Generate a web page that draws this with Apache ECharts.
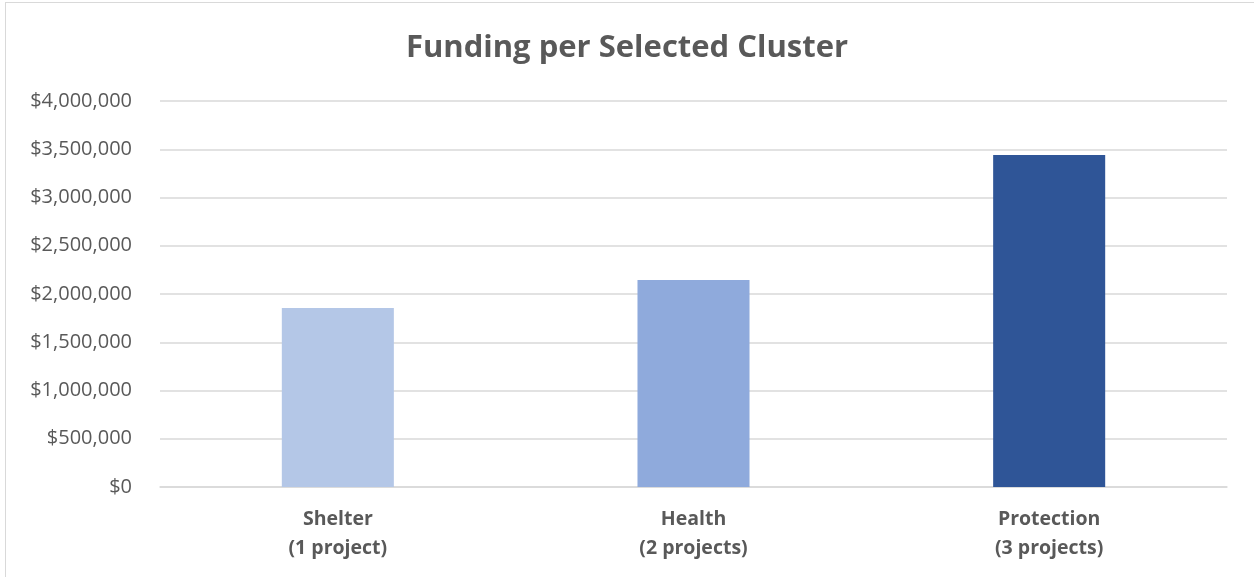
<!DOCTYPE html>
<html>
<head>
<meta charset="utf-8">
<script src="https://cdn.jsdelivr.net/npm/echarts@6/dist/echarts.min.js"></script>
<style>
html,body{margin:0;padding:0;background:#fff;}
#frame{position:absolute;left:5px;top:2px;right:0;bottom:0;border-left:1px solid #d9d9d9;border-top:1px solid #d9d9d9;}
#chart{position:absolute;left:0;top:0;width:1254px;height:577px;}
</style>
</head>
<body>
<div id="frame"></div>
<div id="chart"></div>
<script>
const categories = ['Shelter\n(1 project)', 'Health\n(2 projects)', 'Protection\n(3 projects)'];
const funding = [1855000, 2145000, 3440000];
const barColors = ['#b4c7e7', '#8faadc', '#2f5597'];
const yTicks = [0, 500000, 1000000, 1500000, 2000000, 2500000, 3000000, 3500000, 4000000];

const chart = echarts.init(document.getElementById('chart'), null, {renderer: 'canvas'});
const fontFam = '"Open Sans", "Liberation Sans", sans-serif';
chart.setOption({
  animation: false,
  title: {
    text: 'Funding per Selected Cluster',
    left: 'center',
    top: 28,
    textStyle: {fontFamily: fontFam, fontWeight: 'bold', fontSize: 31, color: '#595959'}
  },
  grid: {left: 160, right: 27, top: 101, bottom: 90, containLabel: false},
  xAxis: {
    type: 'category',
    data: categories,
    axisLine: {lineStyle: {color: '#d9d9d9', width: 1.5}},
    axisTick: {show: false},
    axisLabel: {fontFamily: fontFam, fontWeight: 'bold', fontSize: 19.5, color: '#595959', margin: 18, lineHeight: 29}
  },
  yAxis: {
    type: 'value',
    min: yTicks[0],
    max: yTicks[yTicks.length - 1],
    interval: yTicks[1] - yTicks[0],
    axisLine: {show: false},
    axisTick: {show: false},
    splitLine: {lineStyle: {color: '#d9d9d9', width: 1.5}},
    axisLabel: {
      fontFamily: fontFam, fontSize: 20, color: '#595959', margin: 28,
      formatter: v => '$' + v.toLocaleString('en-US')
    }
  },
  series: [{
    type: 'bar',
    barWidth: '31.5%',
    data: funding.map((v, i) => ({value: v, itemStyle: {color: barColors[i]}}))
  }]
});
</script>
</body>
</html>
